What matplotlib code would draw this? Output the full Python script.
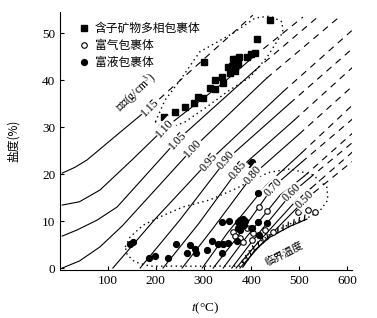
import matplotlib
matplotlib.use("Agg")
import matplotlib.pyplot as plt
import matplotlib.patheffects as pe

plt.rcParams['font.family'] = ['Liberation Serif', 'Noto Sans CJK SC', 'DejaVu Sans']
plt.rcParams['mathtext.fontset'] = 'stix'

# 等密度线 (g/cm3): 实线部分与虚线部分 (T, 盐度)
line_names = ['1.15', '1.10', '1.05', '1.00', '0.95', '0.90', '0.85', '0.80',
              '0.75', '0.70', '0.65', '0.60', '0.55', '0.50']
solid_T = [[4, 30, 56, 110, 188],
           [4, 40, 83, 150, 219, 341, 405],
           [4, 35, 77, 119, 245, 408],
           [4, 40, 83, 130, 278, 432],
           [110, 200, 310, 466],
           [167, 250, 347, 480],
           [215, 290, 372, 490],
           [255, 320, 403, 500],
           [297, 350, 430, 505],
           [320, 370, 445, 505],
           [341, 385, 460, 510],
           [359, 400, 485, 520],
           [368, 410, 495, 525],
           [376, 420, 512, 530]]
solid_S = [[20.2, 21.4, 23.0, 27.6, 34.2],
           [13.4, 14.1, 16.6, 23.0, 29.8, 39.4, 45.0],
           [6.8, 8.1, 10.2, 13.0, 27.2, 42.1],
           [0, 1.5, 4.5, 9.0, 25.5, 40.4],
           [0, 10.6, 22.6, 37.5],
           [0, 10.2, 23.0, 35.0],
           [0, 9.5, 20.9, 31.5],
           [0, 8.5, 19.8, 28.5],
           [0, 7.5, 17.5, 24.5],
           [0, 6.5, 17.2, 22.5],
           [0, 6.0, 15.5, 19.5],
           [0, 5.5, 16.0, 19.0],
           [0, 5.0, 14.5, 17.0],
           [0, 5.0, 14.5, 16.0]]
dash_T = [[188, 403], [405, 508], [408, 540], [432, 585], [466, 610], [480, 615],
          [490, 615], [500, 615], [505, 615], [505, 615], [510, 615], [520, 615],
          [525, 615], [530, 615]]
dash_S = [[34.2, 53.8], [45.0, 53.4], [42.1, 53.5], [40.4, 53.5], [37.5, 50.5],
          [35.0, 47.0], [31.5, 43.0], [28.5, 39.0], [24.5, 35.0], [22.5, 32.0],
          [19.5, 29.0], [19.0, 27.0], [17.0, 25.0], [16.0, 23.0]]

# 等密度线标注
label_text = ['1.15', '1.10', '1.05', '1.00', '0.95', '0.90', '0.85', '0.80',
              '0.70', '0.60', '0.50']
label_T = [188, 219, 245, 278, 310, 347, 372, 403, 445, 485, 512]
label_S = [34.2, 29.8, 27.2, 25.5, 22.6, 23.0, 20.9, 19.8, 17.2, 16.0, 14.5]
label_rot = [45, 47, 47, 47, 50, 50, 50, 50, 47, 45, 45]

# 临界曲线
crit_T = [382, 407, 439, 481, 516]
crit_S = [0.2, 3.8, 6.6, 8.9, 10.4]

# 含子矿物多相包裹体
sq_T = [216, 240, 262, 279, 289, 299, 313, 324, 324, 338, 341, 351, 355, 360, 365,
        368, 372, 362, 375, 390, 400, 408, 300, 412, 439]
sq_S = [32.1, 33.2, 34.2, 35.1, 36.4, 36.2, 38.3, 38.1, 40.0, 40.6, 39.4, 42.8, 41.5,
        43.0, 42.0, 44.5, 43.5, 44.5, 45.0, 45.0, 45.5, 45.7, 43.8, 48.7, 52.8]

# 富气包裹体
vap_T = [416, 433, 391, 399, 403, 428, 361, 365, 376, 401, 445, 497, 518, 533, 382]
vap_S = [13.0, 12.1, 8.5, 8.5, 7.4, 8.1, 7.7, 6.8, 6.4, 6.0, 7.7, 11.9, 12.3, 11.9, 5.5]

# 富液包裹体
liq_T = [146, 152, 186, 198, 226, 242, 265, 272, 282, 284, 307, 318, 330, 341, 351,
         338, 338, 353, 372, 376, 382, 386, 378, 372, 384, 370, 376, 401, 414, 432,
         414, 401, 397, 416]
liq_S = [5.1, 5.5, 2.1, 2.6, 2.1, 5.1, 3.2, 4.9, 4.0, 3.2, 3.8, 5.7, 5.1, 5.1, 5.3,
         3.2, 9.8, 10.0, 9.8, 10.2, 10.4, 10.0, 8.7, 8.5, 9.2, 5.7, 8.1, 8.5, 9.8, 9.6,
         16.0, 22.6, 22.1, 7.0]

# 点线圈
env1_T = [199, 219, 251, 292, 362, 408, 439, 464, 466, 433, 397, 355, 307, 261, 219, 199]
env1_S = [31.1, 35.7, 40.0, 46.0, 50.0, 53.2, 53.6, 52.4, 50.2, 44.9, 40.6, 37.9,
          34.3, 31.1, 29.4, 31.1]
env2_T = [136, 146, 173, 209, 257, 313, 370, 408, 439, 481, 529, 558, 560, 543, 512,
          481, 439, 408, 387, 376, 293, 188, 156, 140, 136]
env2_S = [4.5, 6.6, 9.1, 10.9, 13.0, 14.5, 17.0, 19.1, 20.4, 21.1, 19.8, 17.2, 14.5,
          12.1, 10.4, 9.4, 7.2, 4.9, 2.1, 0.4, 0.4, 0.4, 1.3, 2.8, 4.5]

fig = plt.figure(figsize=(3.77, 3.18), dpi=100)
ax = fig.add_axes([0.160, 0.1497, 0.773, 0.813])

for i in range(len(line_names)):
    ax.plot(solid_T[i], solid_S[i], color='black', lw=0.8)
    ax.plot(dash_T[i], dash_S[i], color='black', lw=0.8, dashes=(6, 5))

for t, x, y, r in zip(label_text, label_T, label_S, label_rot):
    ax.text(x, y, t, fontsize=8.5, rotation=r, ha='center', va='center',
            rotation_mode='anchor',
            bbox=dict(facecolor='white', edgecolor='none', pad=0.3))
ax.text(158, 37.2, '密度(g/cm$^3$)', fontsize=8.5, rotation=43, ha='center',
        va='center', rotation_mode='anchor')

ax.plot(crit_T, crit_S, color='black', lw=0.9,
        path_effects=[pe.withTickedStroke(angle=60, spacing=4, length=0.9)])
ax.text(467, 3.0, '临界温度', fontsize=7.5, rotation=27, ha='center', va='center',
        rotation_mode='anchor', family=['Noto Sans CJK SC'])

ax.plot(env1_T, env1_S, color='black', lw=1.0, dashes=(1, 2.5))
ax.plot(env2_T, env2_S, color='black', lw=1.0, dashes=(1, 2.5))

ax.plot(sq_T, sq_S, 's', color='black', ms=4.5, ls='none', label='含子矿物多相包裹体')
ax.plot(vap_T, vap_S, 'o', mfc='white', mec='black', mew=0.8, ms=4, ls='none',
        label='富气包裹体')
ax.plot(liq_T, liq_S, 'o', color='black', ms=4.2, ls='none', label='富液包裹体')

leg = ax.legend(loc='upper left', bbox_to_anchor=(0.045, 0.985), frameon=False,
                borderpad=0, handlelength=0.8, handletextpad=0.5, labelspacing=0.35,
                prop={'family': ['Noto Sans CJK SC'], 'size': 8.5})

ax.set_xlim(0, 610)
ax.set_ylim(-0.5, 54.5)
ax.set_xticks([100, 200, 300, 400, 500, 600])
ax.set_yticks([0, 10, 20, 30, 40, 50])
ax.tick_params(direction='in', length=3, labelsize=9.5)
for s in ['top', 'right']:
    ax.spines[s].set_visible(False)

ax.set_xlabel('$t$(°C)', fontsize=9.5)
ax.xaxis.set_label_coords(0.497, -0.115)
ax.set_ylabel('盐度(%)', fontsize=8.5, family=['Noto Sans CJK SC'])
ax.yaxis.set_label_coords(-0.14, 0.5)

fig.savefig('out.png', dpi=100)
